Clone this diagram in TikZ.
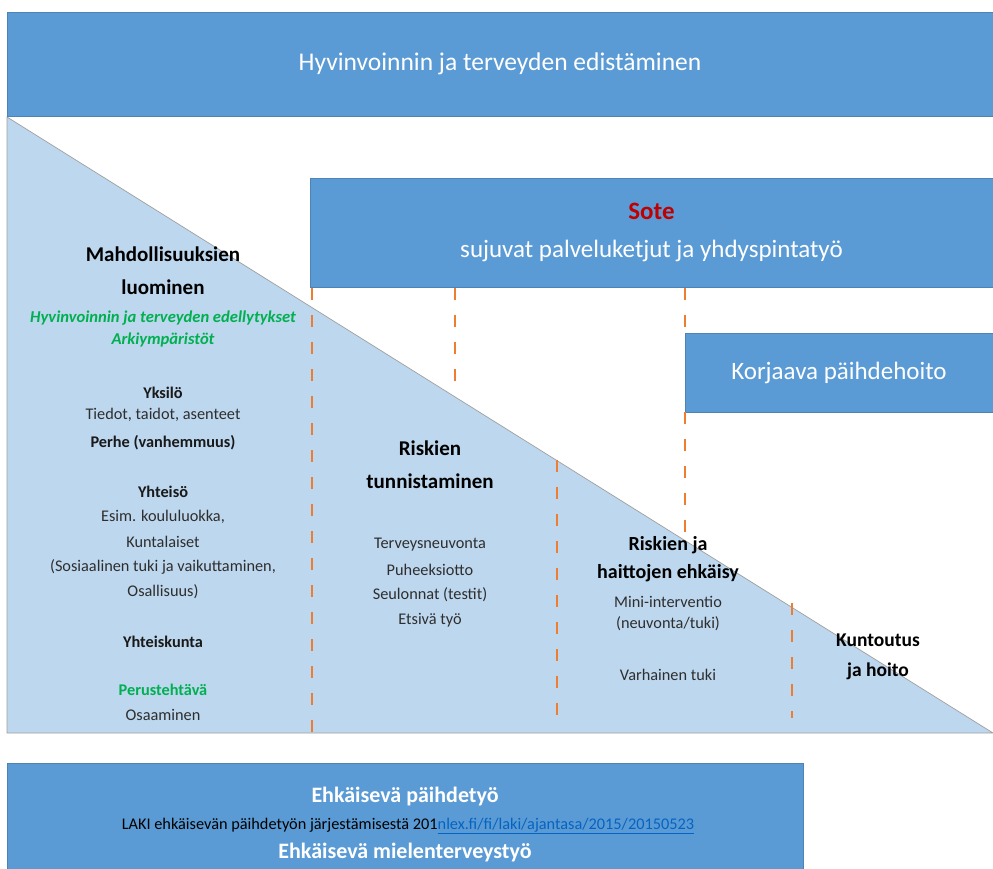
\documentclass[tikz,border=0pt]{standalone}
\usepackage{fontspec}
\setmainfont{Carlito}
\definecolor{barblue}{HTML}{5B9BD5}
\definecolor{lightblue}{HTML}{BDD7EE}
\definecolor{dashor}{HTML}{ED7D31}
\definecolor{grn}{HTML}{00B050}
\definecolor{sotered}{HTML}{C00000}
\definecolor{linkblue}{HTML}{0563C1}
\begin{document}
\begin{tikzpicture}[x=1pt,y=-1pt,
 bar/.style={fill=barblue, draw=barblue!85!black, line width=0.6pt, inner sep=0pt, text=white},
 tri/.style={fill=lightblue, draw=gray!75, line width=0.7pt},
 dsh/.style={draw=dashor, line width=2.5pt, dash pattern=on 12pt off 15pt},
 wt/.style={font=\fontsize{25}{38}\selectfont},
 hd/.style={font=\bfseries\fontsize{21}{33}\selectfont, text=black, align=center},
 bd/.style={font=\fontsize{16.3}{18}\selectfont, text=black!82},
 bb/.style={font=\bfseries\fontsize{16.3}{18}\selectfont, text=black!90},
 gi/.style={font=\bfseries\itshape\fontsize{16.6}{18}\selectfont, text=grn},
 ]
\useasboundingbox (0,0) rectangle (993,869);
\fill[white] (0,0) rectangle (993,869);
% triangle
\draw[tri] (7,117) -- (993,733) -- (7,733) -- cycle;
% bars
\node[bar, font=\fontsize{25.5}{30}\selectfont, minimum width=986pt, minimum height=104pt] (top) at (500,64) {Hyvinvoinnin ja terveyden edistäminen};
\node[bar, wt, minimum width=683pt, minimum height=109pt, align=center] (sote) at (651.5,232.5)
  {\textcolor{sotered}{\bfseries Sote}\\sujuvat palveluketjut ja yhdyspintatyö};
\node[bar, wt, minimum width=308pt, minimum height=79pt] (korj) at (839,372.5) {Korjaava päihdehoito};
\draw[bar] (7,763) rectangle (803,880);
% dashed separators
\draw[dsh] (312,288) -- (312,733);
\draw[dsh] (455,288) -- (455,390);
\draw[dsh] (557,460) -- (557,725);
\draw[dsh] (685,288) -- (685,333);
\draw[dsh] (685,412) -- (685,540);
\draw[dsh] (792,603) -- (792,718);
% left column
\node[hd] (l1) at (163,271) {Mahdollisuuksien\\luominen};
\node[gi] (l2) at (163,318) {Hyvinvoinnin ja terveyden edellytykset};
\node[gi] (l3) at (163,340) {Arkiympäristöt};
\node[bb] (l4) at (163,393) {Yksilö};
\node[bd] (l5) at (163,415) {Tiedot, taidot, asenteet};
\node[bb] (l6) at (163,443) {Perhe (vanhemmuus)};
\node[bb] (l7) at (163,492) {Yhteisö};
\node[bd] (l8) at (163,517) {Esim. koululuokka,};
\node[bd] (l9) at (163,542) {Kuntalaiset};
\node[bd] (l10) at (163,567) {(Sosiaalinen tuki ja vaikuttaminen,};
\node[bd] (l11) at (163,592) {Osallisuus)};
\node[bb] (l12) at (163,642) {Yhteiskunta};
\node[bb, text=grn] (l13) at (163,690) {Perustehtävä};
\node[bd] (l14) at (163,715) {Osaaminen};
% riskien tunnistaminen
\node[hd] (r1) at (430,465) {Riskien\\tunnistaminen};
\node[bd] (r2) at (430,545) {Terveysneuvonta};
\node[bd] (r3) at (430,570) {Puheeksiotto};
\node[bd] (r4) at (430,595) {Seulonnat (testit)};
\node[bd] (r5) at (430,620) {Etsivä työ};
% riskien ja haittojen ehkäisy
\node[hd, font=\bfseries\fontsize{20}{28}\selectfont] (h1) at (668,559) {Riskien ja\\haittojen ehkäisy};
\node[bd] (h2) at (668,602) {Mini-interventio};
\node[bd] (h3) at (668,624) {(neuvonta/tuki)};
\node[bd] (h4) at (668,675) {Varhainen tuki};
% kuntoutus
\node[hd, font=\bfseries\fontsize{19.5}{30}\selectfont] (k1) at (878,657) {Kuntoutus\\ja hoito};
% bottom bar texts
\node[text=white, font=\bfseries\fontsize{22}{24}\selectfont] (b1) at (405,797) {Ehkäisevä päihdetyö};
\node[text=black, font=\fontsize{16.3}{18}\selectfont] (b2) at (408,826) {LAKI ehkäisevän päihdetyön järjestämisestä 201\textcolor{linkblue}{\underline{nlex.fi/fi/laki/ajantasa/2015/20150523}}};
\node[text=white, font=\bfseries\fontsize{22}{24}\selectfont] (b3) at (405,853) {Ehkäisevä mielenterveystyö};
\end{tikzpicture}
\end{document}
